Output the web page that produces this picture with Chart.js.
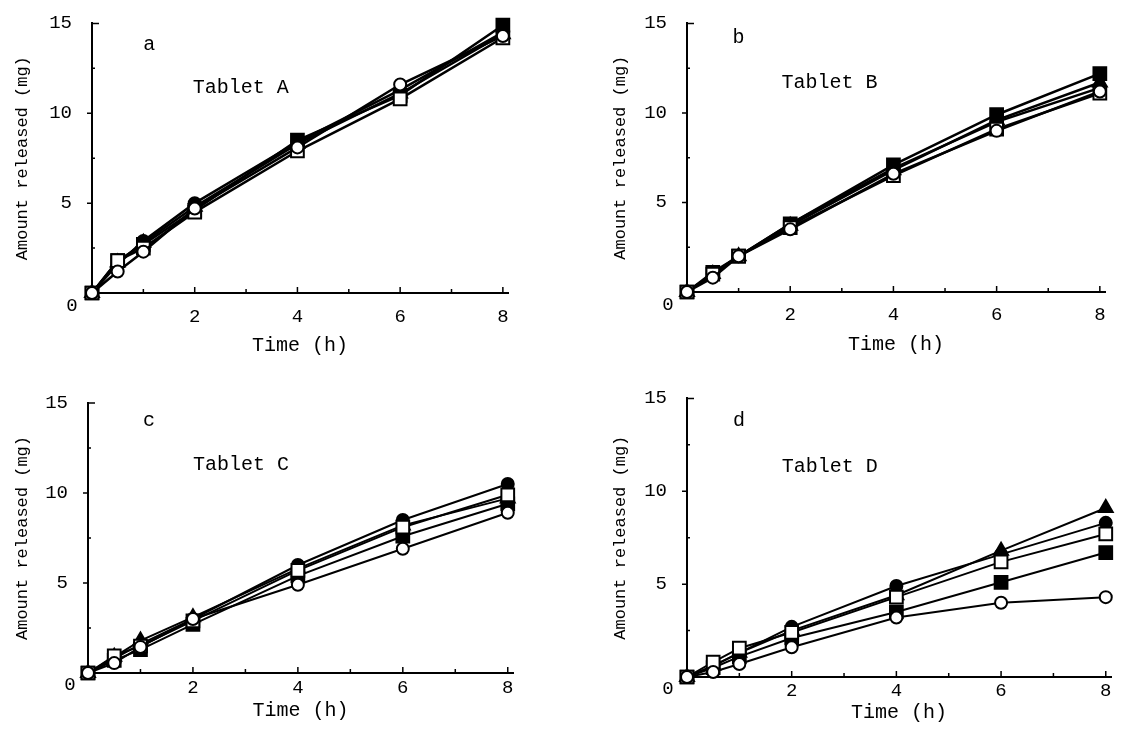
<!DOCTYPE html>
<html><head><meta charset="utf-8">
<script src="https://cdn.jsdelivr.net/npm/chart.js@4.4.1/dist/chart.umd.min.js"></script>
<style>
html,body{margin:0;padding:0;background:#fff;}
#wrap{position:relative;width:1122px;height:750px;overflow:hidden;background:#fff;}
canvas{position:absolute;}
</style></head><body><div id="wrap">
<canvas id="pa" width="561" height="375" style="left:0px;top:0px"></canvas>
<canvas id="pb" width="561" height="375" style="left:561px;top:0px"></canvas>
<canvas id="pc" width="561" height="375" style="left:0px;top:375px"></canvas>
<canvas id="pd" width="561" height="375" style="left:561px;top:375px"></canvas>
</div>
<script>
// ---- data ----
const timeHours = [0, 0.5, 1, 2, 4, 6, 8];
const xTickValues = [2, 4, 6, 8];
const yTickValues = [5, 10, 15];

const tabletA_openCircle     = [0, 1.2, 2.3, 4.7, 8.1, 11.6, 14.3];
const tabletA_openSquare     = [0, 1.8, 2.5, 4.5, 7.9, 10.8, 14.2];
const tabletA_filledSquare   = [0, 1.8, 2.7, 4.6, 8.5, 11.0, 14.9];
const tabletA_filledCircle   = [0, 1.6, 2.9, 5.0, 8.4, 11.3, 14.5];
const tabletA_filledTriangle = [0, 1.7, 2.8, 4.8, 8.3, 11.1, 14.4];

const tabletB_openCircle     = [0, 0.8, 2.0, 3.5, 6.6, 9.0, 11.2];
const tabletB_openSquare     = [0, 1.0, 2.0, 3.6, 6.5, 9.1, 11.1];
const tabletB_filledSquare   = [0, 1.1, 2.0, 3.8, 7.1, 9.9, 12.2];
const tabletB_filledCircle   = [0, 1.0, 2.0, 3.8, 6.9, 9.5, 11.4];
const tabletB_filledTriangle = [0, 1.0, 2.0, 3.7, 6.8, 9.6, 11.7];

const tabletC_openCircle     = [0, 0.55, 1.45, 3.0, 4.9, 6.9, 8.9];
const tabletC_openSquare     = [0, 0.95, 1.5, 2.9, 5.7, 8.1, 9.9];
const tabletC_filledSquare   = [0, 0.7, 1.3, 2.7, 5.4, 7.6, 9.4];
const tabletC_filledCircle   = [0, 0.8, 1.6, 3.0, 6.0, 8.5, 10.5];
const tabletC_filledTriangle = [0, 0.9, 1.8, 3.1, 5.8, 8.2, 9.7];

const tabletD_openCircle     = [0, 0.27, 0.7, 1.6, 3.2, 4.0, 4.3];
const tabletD_openSquare     = [0, 0.8, 1.55, 2.4, 4.3, 6.2, 7.7];
const tabletD_filledSquare   = [0, 0.5, 1.1, 2.1, 3.5, 5.1, 6.7];
const tabletD_filledCircle   = [0, 0.6, 1.3, 2.7, 4.9, 6.6, 8.3];
const tabletD_filledTriangle = [0, 0.6, 1.3, 2.5, 4.4, 6.8, 9.1];

// ---- styles ----
const FONT = "'Liberation Mono', 'Courier New', monospace";
const markers = {
  openCircle:     {pointStyle: 'circle',   bg: '#fff', r: 6},
  openSquare:     {pointStyle: 'rect',     bg: '#fff', r: 9},
  filledSquare:   {pointStyle: 'rect',     bg: '#000', r: 9},
  filledCircle:   {pointStyle: 'circle',   bg: '#000', r: 6},
  filledTriangle: {pointStyle: 'triangle', bg: '#000', r: 8}
};

const panels = [
  {id: 'pa', letter: 'a', name: 'Tablet A',
   series: {openCircle: tabletA_openCircle, openSquare: tabletA_openSquare, filledSquare: tabletA_filledSquare, filledCircle: tabletA_filledCircle, filledTriangle: tabletA_filledTriangle},
   area: {left: 92, top: 16, right: 508, bottom: 293}, yTitlePad: 12, xTitlePad: 17, xTickPad: 5, lineW: 2.5,
   letterAt: [1.0, 13.8], nameAt: [1.96, 11.4], zeroAt: [-20, 13]},
  {id: 'pb', letter: 'b', name: 'Tablet B',
   series: {openCircle: tabletB_openCircle, openSquare: tabletB_openSquare, filledSquare: tabletB_filledSquare, filledCircle: tabletB_filledCircle, filledTriangle: tabletB_filledTriangle},
   area: {left: 126, top: 19, right: 544, bottom: 292}, yTitlePad: 49, xTitlePad: 18, xTickPad: 4, lineW: 2.5,
   letterAt: [0.88, 14.2], nameAt: [1.83, 11.7], zeroAt: [-19, 13]},
  {id: 'pc', letter: 'c', name: 'Tablet C',
   series: {openCircle: tabletC_openCircle, openSquare: tabletC_openSquare, filledSquare: tabletC_filledSquare, filledCircle: tabletC_filledCircle, filledTriangle: tabletC_filledTriangle},
   area: {left: 88, top: 28, right: 513, bottom: 298}, yTitlePad: 12, xTitlePad: 27, xTickPad: -4, lineW: 2,
   letterAt: [1.05, 14.0], nameAt: [2.0, 11.55], zeroAt: [-18, 12]},
  {id: 'pd', letter: 'd', name: 'Tablet D',
   series: {openCircle: tabletD_openCircle, openSquare: tabletD_openSquare, filledSquare: tabletD_filledSquare, filledCircle: tabletD_filledCircle, filledTriangle: tabletD_filledTriangle},
   area: {left: 126, top: 23, right: 552, bottom: 302}, yTitlePad: 49, xTitlePad: 25, xTickPad: -5, lineW: 2,
   letterAt: [0.88, 13.8], nameAt: [1.81, 11.3], zeroAt: [-19, 12]}
];

const decor = {
  id: 'decor',
  afterDraw(chart, args, o) {
    const ctx = chart.ctx, xs = chart.scales.x, ys = chart.scales.y;
    const y0 = ys.getPixelForValue(0), x0 = xs.getPixelForValue(0);
    ctx.save();
    ctx.strokeStyle = '#000';
    ctx.lineWidth = 1.5;
    ctx.beginPath();
    for (let v = 1; v <= 8; v++) {
      const px = xs.getPixelForValue(v);
      ctx.moveTo(px, y0);
      ctx.lineTo(px, y0 - (v % 2 === 0 ? 6 : 4));
    }
    for (let v = 2.5; v <= 15; v += 2.5) {
      const py = ys.getPixelForValue(v);
      if (v === 15) { ctx.moveTo(x0, py); ctx.lineTo(x0 + 7, py); }
      else if (v % 5 === 0) { ctx.moveTo(x0, py); ctx.lineTo(x0 - 5, py); }
      else { ctx.moveTo(x0, py); ctx.lineTo(x0 + 3, py); }
    }
    ctx.stroke();
    ctx.fillStyle = '#000';
    ctx.textBaseline = 'middle';
    ctx.textAlign = 'left';
    ctx.font = '20px ' + FONT;
    ctx.fillText(o.letter, xs.getPixelForValue(o.letterAt[0]), ys.getPixelForValue(o.letterAt[1]));
    ctx.fillText(o.name, xs.getPixelForValue(o.nameAt[0]), ys.getPixelForValue(o.nameAt[1]));
    ctx.font = '19px ' + FONT;
    ctx.textAlign = 'center';
    ctx.fillText('0', x0 + o.zeroAt[0], y0 + o.zeroAt[1]);
    ctx.restore();
  }
};

panels.forEach(p => {
  const canvas = document.getElementById(p.id);
  const cw = canvas.width, ch = canvas.height;
  const datasets = Object.keys(p.series).map(k => ({
    label: k,
    data: timeHours.map((t, i) => ({x: t, y: p.series[k][i]})),
    borderColor: '#000',
    borderWidth: p.lineW,
    pointStyle: markers[k].pointStyle,
    pointRadius: markers[k].r,
    pointBackgroundColor: markers[k].bg,
    pointBorderColor: '#000',
    pointBorderWidth: 2,
    tension: 0,
    clip: false
  }));
  new Chart(canvas, {
    type: 'line',
    data: {datasets},
    options: {
      responsive: false, animation: false, devicePixelRatio: 1,
      layout: {padding: {top: p.area.top, right: cw - p.area.right, left: 0, bottom: 0}},
      plugins: {legend: {display: false}, tooltip: {enabled: false},
                decor: {letter: p.letter, name: p.name, letterAt: p.letterAt, nameAt: p.nameAt, zeroAt: p.zeroAt}},
      scales: {
        x: {type: 'linear', min: 0, max: 8.1,
            afterBuildTicks: s => { s.ticks = xTickValues.map(v => ({value: v})); },
            afterFit: s => { s.height = ch - p.area.bottom; },
            grid: {display: false}, border: {display: true, color: '#000', width: 2},
            ticks: {color: '#000', font: {family: FONT, size: 19}, padding: p.xTickPad, maxRotation: 0, autoSkip: false},
            title: {display: true, text: 'Time (h)', color: '#000', font: {family: FONT, size: 20}, padding: {top: 0, bottom: p.xTitlePad}}},
        y: {type: 'linear', min: 0, max: 15,
            afterBuildTicks: s => { s.ticks = yTickValues.map(v => ({value: v})); },
            afterFit: s => { s.width = p.area.left; },
            grid: {display: false}, border: {display: true, color: '#000', width: 2},
            ticks: {color: '#000', font: {family: FONT, size: 19}, padding: 12, autoSkip: false},
            title: {display: true, text: 'Amount released (mg)', color: '#000', font: {family: FONT, size: 17}, padding: {top: p.yTitlePad, bottom: 0}}}
      }
    },
    plugins: [decor]
  });
});
</script>
</body></html>
